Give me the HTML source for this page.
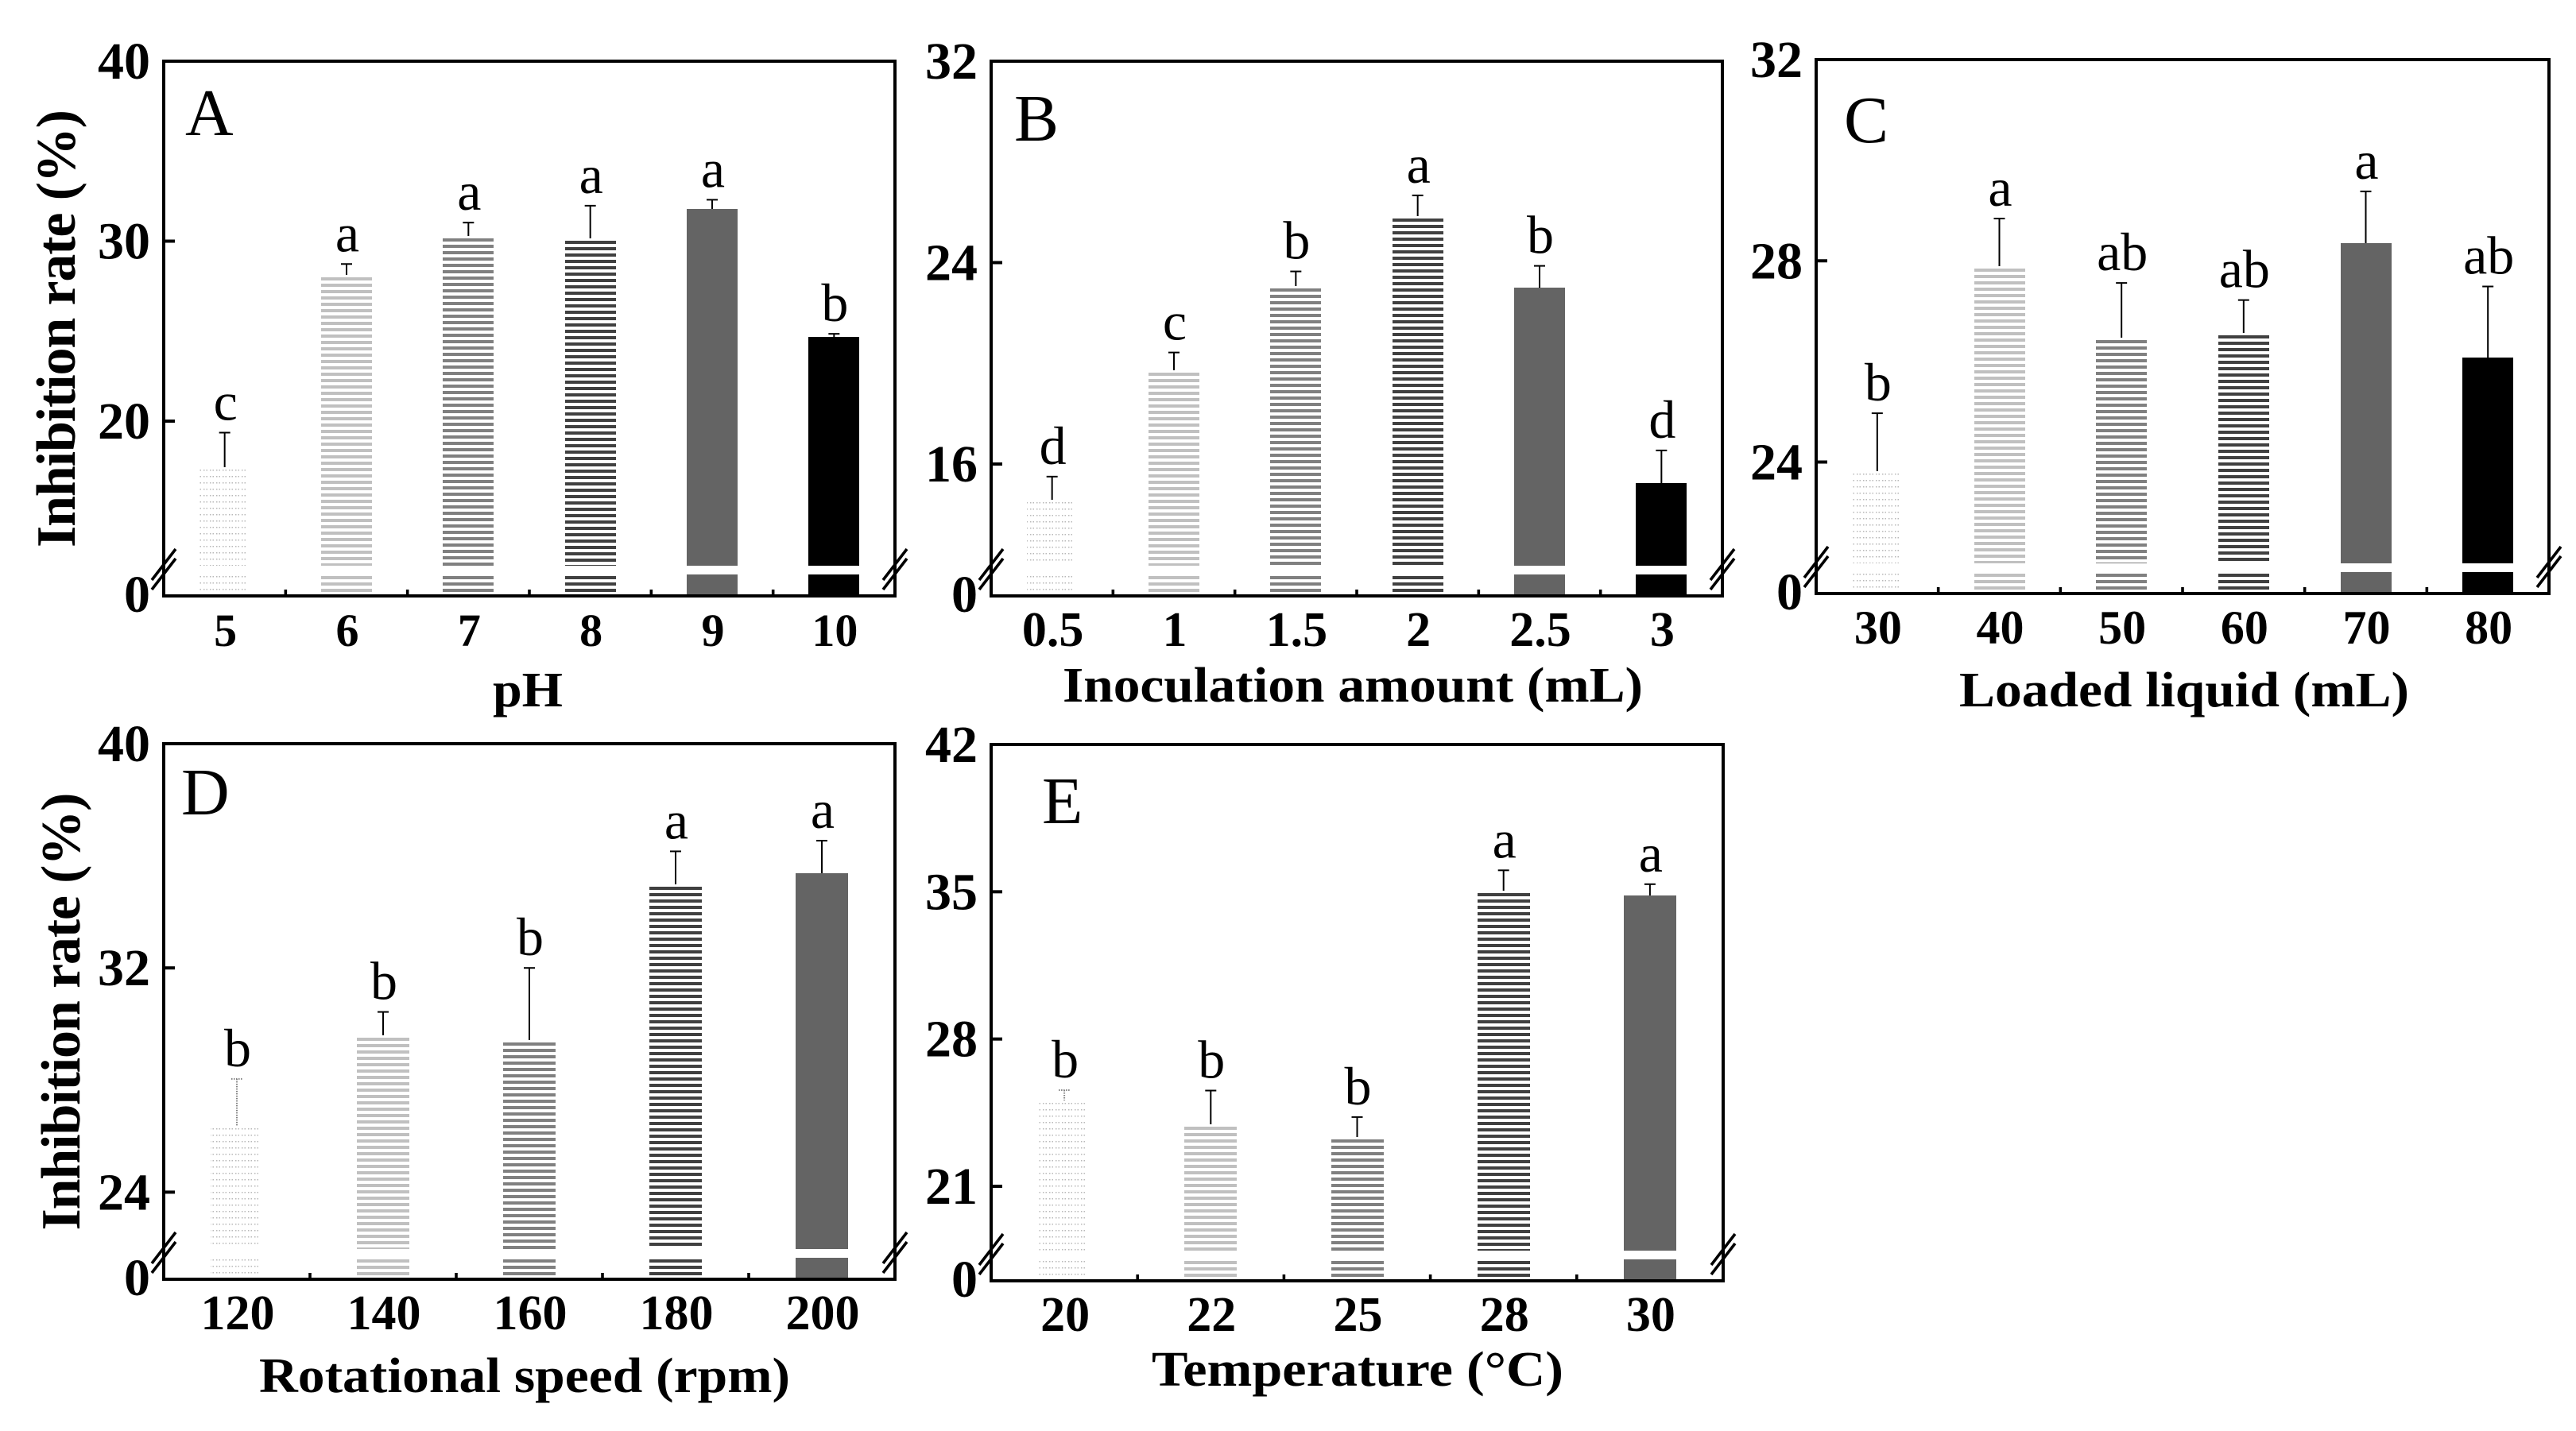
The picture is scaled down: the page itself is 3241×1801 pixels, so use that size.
<!DOCTYPE html>
<html lang="en">
<head>
<meta charset="utf-8">
<title>Inhibition rate bar charts</title>
<style>
html,body{margin:0;padding:0;background:#fff;width:3241px;height:1801px;overflow:hidden}
svg{display:block}
text{font-family:"Liberation Serif","Times New Roman",serif;fill:#000}
rect{shape-rendering:crispEdges}
</style>
</head>
<body>
<svg id="figure" xmlns="http://www.w3.org/2000/svg" width="3241" height="1801" viewBox="0 0 3241 1801">
<rect x="0" y="0" width="3241" height="1801" fill="#fff"></rect>
<defs id="defs"></defs>
</svg>
<script>
const panelACategories = ['5','6','7','8','9','10'];
const panelAValues = [17.3,28,30.17,30.03,31.8,24.67];
const panelAErrors = [2.06,0.73,0.86,1.94,0.5,0.18];
const panelASignificance = ['c','a','a','a','a','b'];
const panelATicks = [20,30,40];

const panelBCategories = ['0.5','1','1.5','2','2.5','3'];
const panelBValues = [14.49,19.63,22.98,25.75,23.0,15.24];
const panelBErrors = [1.01,0.8,0.67,0.92,0.87,1.3];
const panelBSignificance = ['d','c','b','a','b','d'];
const panelBTicks = [16,24,32];

const panelCCategories = ['30','40','50','60','70','80'];
const panelCValues = [23.77,27.84,26.43,26.52,28.35,26.08];
const panelCErrors = [1.2,1.0,1.13,0.7,1.03,1.41];
const panelCSignificance = ['b','a','ab','ab','a','ab'];
const panelCTicks = [24,28,32];

const panelDCategories = ['120','140','160','180','200'];
const panelDValues = [26.29,29.52,29.34,34.9,35.38];
const panelDErrors = [1.75,0.91,2.66,1.26,1.16];
const panelDSignificance = ['b','b','b','a','a'];
const panelDTicks = [24,32,40];

const panelECategories = ['20','22','25','28','30'];
const panelEValues = [24.97,23.84,23.23,34.95,34.82];
const panelEErrors = [0.6,1.71,1.06,1.07,0.54];
const panelESignificance = ['b','b','b','a','a'];
const panelETicks = [21,28,35,42];

const panels = [
 {id:'a',letter:'A',letterX:233,letterY:170,left:206,right:1126,top:77,bottom:750,refPx:530,xFont:58,
  cats:panelACategories,vals:panelAValues,errs:panelAErrors,sig:panelASignificance,ticks:panelATicks,
  xTitle:'pH',xTitleX:664,xTitleY:889,xTitleLen:88,yTitleX:94,yTitleY:413.5,dottedErr:false},
 {id:'b',letter:'B',letterX:1276,letterY:177,left:1247,right:2167,top:77,bottom:750,refPx:584,xFont:62,
  cats:panelBCategories,vals:panelBValues,errs:panelBErrors,sig:panelBSignificance,ticks:panelBTicks,
  xTitle:'Inoculation amount (mL)',xTitleX:1702,xTitleY:883,xTitleLen:730,dottedErr:false},
 {id:'c',letter:'C',letterX:2320,letterY:179,left:2285,right:3207,top:75,bottom:747,refPx:581.5,xFont:60,
  cats:panelCCategories,vals:panelCValues,errs:panelCErrors,sig:panelCSignificance,ticks:panelCTicks,
  xTitle:'Loaded liquid (mL)',xTitleX:2748,xTitleY:889,xTitleLen:566,dottedErr:false},
 {id:'d',letter:'D',letterX:228,letterY:1025,left:206,right:1126,top:936,bottom:1610,refPx:1500.4,xFont:62,
  cats:panelDCategories,vals:panelDValues,errs:panelDErrors,sig:panelDSignificance,ticks:panelDTicks,
  xTitle:'Rotational speed (rpm)',xTitleX:660,xTitleY:1752,xTitleLen:668,yTitleX:100,yTitleY:1273,dottedErr:true},
 {id:'e',letter:'E',letterX:1311,letterY:1036,left:1247,right:2168,top:937,bottom:1612,refPx:1493,xFont:62,
  cats:panelECategories,vals:panelEValues,errs:panelEErrors,sig:panelESignificance,ticks:panelETicks,
  xTitle:'Temperature (°C)',xTitleX:1708,xTitleY:1744,xTitleLen:518,dottedErr:true}
];

const barStyles = [
 {kind:'dots',color:'#b8b8b8'},
 {kind:'stripes',color:'#c0c0c0'},
 {kind:'stripes',color:'#808080'},
 {kind:'stripes',color:'#404040'},
 {kind:'solid',color:'#646464'},
 {kind:'solid',color:'#000000'}
];

const NS = 'http://www.w3.org/2000/svg';
const svg = document.getElementById('figure');
const defs = document.getElementById('defs');



function mk(tag, attrs, parent) {
  const el = document.createElementNS(NS, tag);
  for (const k in attrs) el.setAttribute(k, attrs[k]);
  parent.appendChild(el);
  return el;
}

function makePattern(id, style, y0) {
  const p = mk('pattern', {id:id, patternUnits:'userSpaceOnUse', x:0, y:y0, width:8, height:8}, defs);
  if (style.kind === 'stripes') {
    mk('rect', {x:0, y:0, width:8, height:4, fill:style.color}, p);
  } else {
    mk('rect', {x:0, y:0, width:1.4, height:1.4, fill:style.color}, p);
    mk('rect', {x:3.4, y:0, width:1.4, height:1.4, fill:style.color}, p);
  }
  return 'url(#' + id + ')';
}

function drawPanel(P) {
  const g = mk('g', {}, svg);
  
  

  const n = P.cats.length;
  const yLow = P.ticks[0];
  const yMax = P.ticks[P.ticks.length - 1];
  const yScale = v => P.top + (yMax - v) * (P.refPx - P.top) / (yMax - yLow);
  const band = (P.right - P.left) / n;
  const xScale = i => P.left + (i + 0.5) * band;
  const barW = n === 6 ? 64 : 66;
  const breakTop = P.bottom - 38;
  const solidLow = P.bottom - 27;
  const hatchLow = P.bottom - 25;
  const hatchEnd = P.bottom - 5;

  for (let i = 0; i < n; i++) {
    const st = barStyles[i];
    const cx = xScale(i);
    const x = Math.round(cx - barW / 2);
    const top = Math.round(yScale(P.vals[i]));
    const w = st.kind === 'dots' ? barW - 4 : barW;
    let fillUp = st.color;
    let fillLow = st.color;
    if (st.kind !== 'solid') {
      fillUp = makePattern('pu-' + P.id + i, st, top);
      fillLow = makePattern('pl-' + P.id + i, st, hatchLow);
    }
    const upper = mk('rect', {x:x, y:top, width:w, height:Math.max(0, breakTop - top), fill:fillUp}, g);
    
    
    const lowY = st.kind === 'solid' ? solidLow : hatchLow;
    const lowEnd = st.kind === 'solid' ? P.bottom : hatchEnd;
    const lower = mk('rect', {x:x, y:lowY, width:w, height:lowEnd - lowY, fill:fillLow}, g);
    
    

    const errY = yScale(P.vals[i] + P.errs[i]);
    const dotted = P.dottedErr && i === 0;
    const errStroke = dotted ? '#808080' : '#000';
    const errLine = mk('line', {x1:cx, x2:cx, y1:errY, y2:top - (st.kind === 'solid' ? 0 : 3), stroke:errStroke, 'stroke-width':2}, g);
    if (dotted) errLine.setAttribute('stroke-dasharray', '1.5 1.5');
    
    
    const errCap = mk('line', {x1:cx - 7, x2:cx + 7, y1:errY, y2:errY, stroke:errStroke, 'stroke-width':2}, g);
    if (dotted) errCap.setAttribute('stroke-dasharray', '1.5 1.5');
    
    

    const sig = mk('text', {x:cx + 1, y:errY - 16, 'text-anchor':'middle', 'font-size':68}, g);
    sig.textContent = P.sig[i];
    
    

    const tl = mk('text', {x:cx + 1, y:P.bottom + 63, 'text-anchor':'middle', 'font-size':P.xFont, 'font-weight':'bold'}, g);
    tl.textContent = P.cats[i];
    
    

    if (i < n - 1) {
      const tx = P.left + (i + 1) * band;
      const tk = mk('line', {x1:tx, x2:tx, y1:P.bottom, y2:P.bottom - 8, stroke:'#000', 'stroke-width':3.6}, g);
      
      
    }
  }

  const frame = mk('rect', {x:P.left, y:P.top, width:P.right - P.left, height:P.bottom - P.top, fill:'none', stroke:'#000', 'stroke-width':4}, g);
  
  

  P.ticks.forEach(function (t, idx) {
    const ty = yScale(t);
    if (idx < P.ticks.length - 1) {
      const tk = mk('line', {x1:P.left, x2:P.left + 14, y1:ty, y2:ty, stroke:'#000', 'stroke-width':4}, g);
      
      
    }
    const lab = mk('text', {x:P.left - 17, y:ty + 22, 'text-anchor':'end', 'font-size':66, 'font-weight':'bold'}, g);
    lab.textContent = String(t);
    
    
  });
  const zero = mk('text', {x:P.left - 17, y:P.bottom + 20, 'text-anchor':'end', 'font-size':66, 'font-weight':'bold'}, g);
  zero.textContent = '0';
  
  

  [P.left, P.right].forEach(function (sx, side) {
    const s1 = mk('line', {x1:sx - 15, y1:P.bottom - 20, x2:sx + 15, y2:P.bottom - 59, stroke:'#000', 'stroke-width':3.6}, g);
    
    
    const s2 = mk('line', {x1:sx - 15, y1:P.bottom - 8, x2:sx + 15, y2:P.bottom - 47, stroke:'#000', 'stroke-width':3.6}, g);
    
    
  });

  const letter = mk('text', {x:P.letterX, y:P.letterY, 'font-size':84}, g);
  letter.textContent = P.letter;
  
  

  const xt = mk('text', {x:P.xTitleX, y:P.xTitleY, 'text-anchor':'middle', 'font-size':62, 'font-weight':'bold', textLength:P.xTitleLen, lengthAdjust:'spacingAndGlyphs'}, g);
  xt.textContent = P.xTitle;
  
  

  if (P.yTitleX) {
    const yt = mk('text', {x:0, y:0, transform:'translate(' + P.yTitleX + ' ' + P.yTitleY + ') rotate(-90)', 'text-anchor':'middle', 'font-size':70, 'font-weight':'bold', textLength:551, lengthAdjust:'spacing'}, g);
    yt.textContent = 'Inhibition rate (%)';
    
    
  }
}

panels.forEach(drawPanel);
</script>
</body>
</html>
